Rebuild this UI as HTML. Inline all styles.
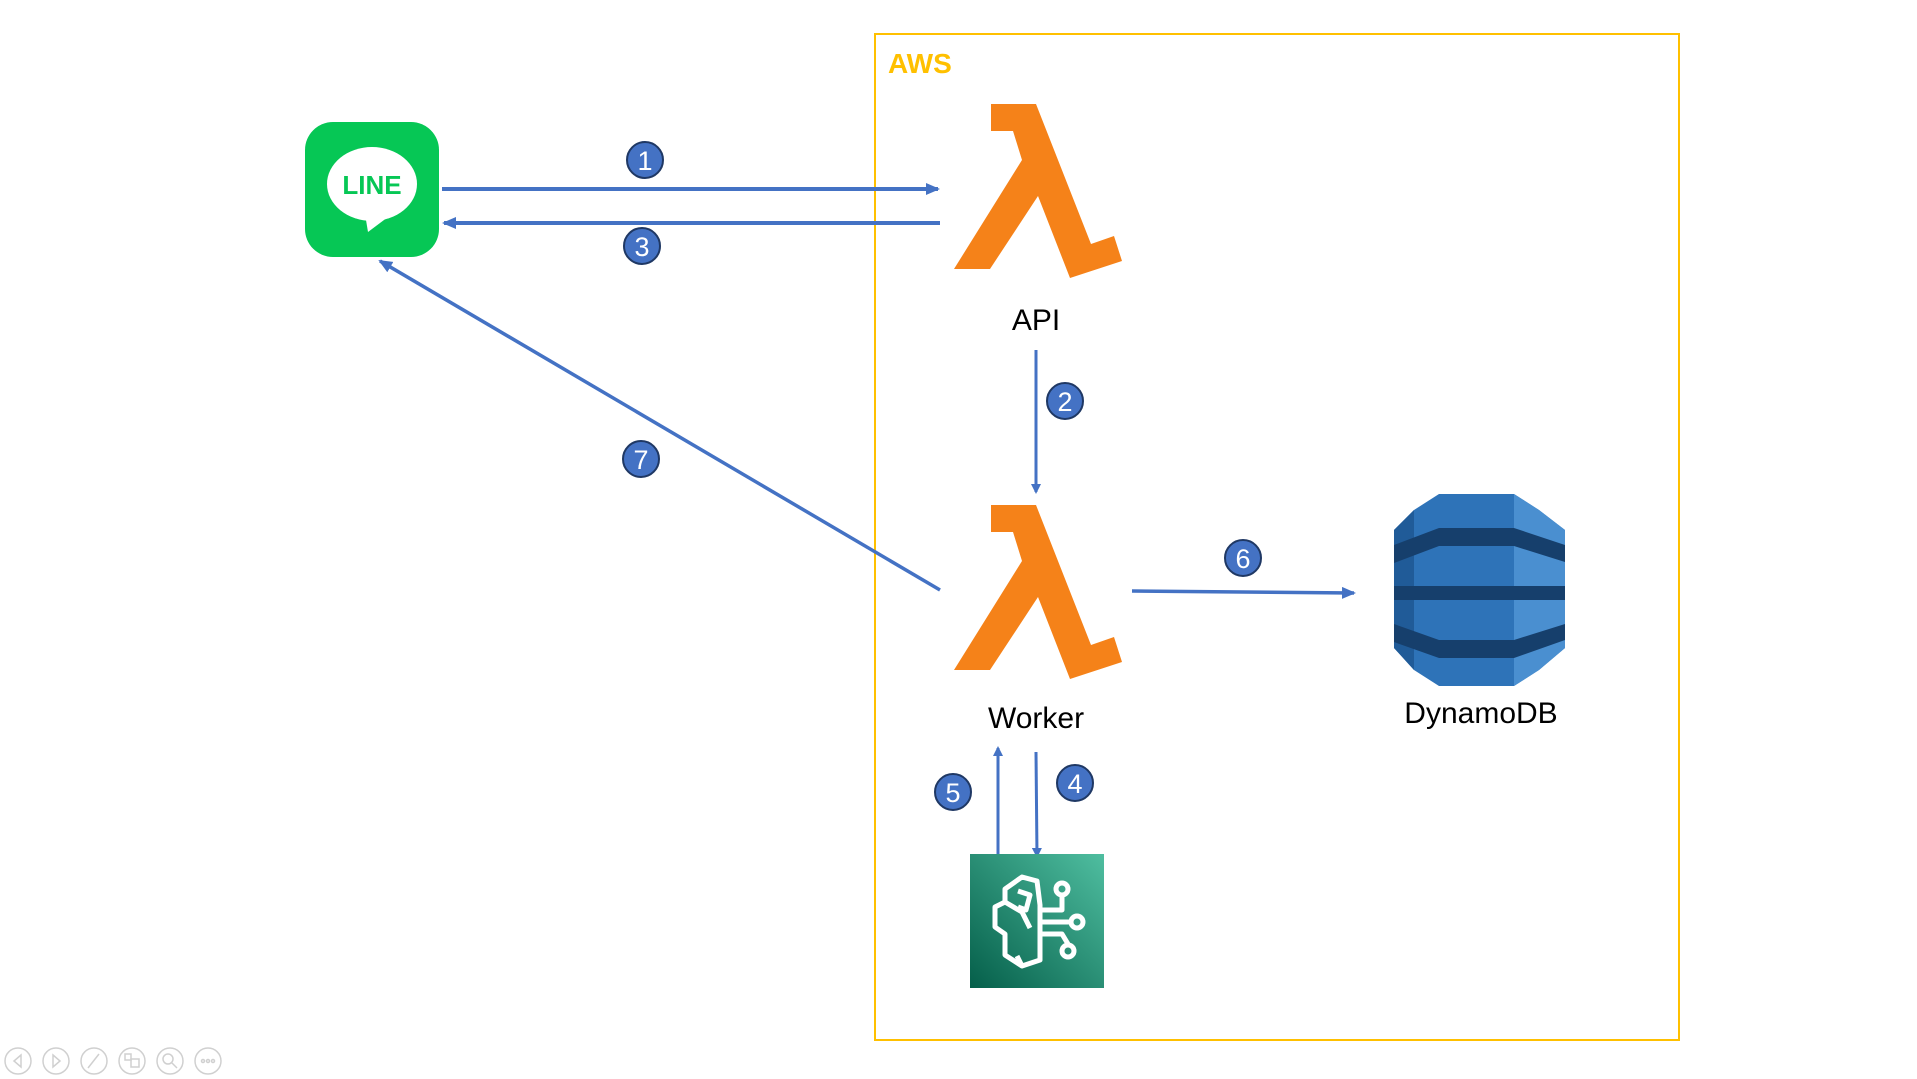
<!DOCTYPE html>
<html><head><meta charset="utf-8"><style>
html,body{margin:0;padding:0;background:#fff;}
svg{display:block;}
text{font-family:"Liberation Sans",sans-serif;}
</style></head><body>
<svg width="1917" height="1079" viewBox="0 0 1917 1079" xmlns="http://www.w3.org/2000/svg">
<defs>
<marker id="ah" markerWidth="10" markerHeight="10" refX="8" refY="5" orient="auto" markerUnits="userSpaceOnUse">
<path d="M0,0 L10,5 L0,10 z" fill="#4472C4"/>
</marker>
<marker id="ah2" markerWidth="14" markerHeight="12" refX="12" refY="6" orient="auto" markerUnits="userSpaceOnUse">
<path d="M0,0 L14,6 L0,12 z" fill="#4472C4"/>
</marker>
<linearGradient id="cg" x1="0" y1="1" x2="1" y2="0">
<stop offset="0" stop-color="#055F4A"/><stop offset="1" stop-color="#4FBEA0"/>
</linearGradient>
</defs>
<rect x="875" y="34" width="804" height="1006" fill="none" stroke="#FFC000" stroke-width="2"/>
<text x="888" y="73" font-size="28" font-weight="bold" fill="#FFC000">AWS</text>

<rect x="305" y="122" width="134" height="135" rx="28" fill="#06C755"/>
<ellipse cx="372" cy="184" rx="45" ry="37" fill="#fff"/>
<path d="M365,214 L368,232 L392,214 z" fill="#fff"/>
<text x="372" y="194" font-size="26" font-weight="bold" fill="#06C755" text-anchor="middle">LINE</text>

<line x1="442" y1="189" x2="938" y2="189" stroke="#4472C4" stroke-width="4" marker-end="url(#ah2)"/>
<line x1="940" y1="223" x2="444" y2="223" stroke="#4472C4" stroke-width="4" marker-end="url(#ah2)"/>
<line x1="940" y1="590" x2="380" y2="261" stroke="#4472C4" stroke-width="3.5" marker-end="url(#ah2)"/>
<line x1="1036" y1="350" x2="1036" y2="492" stroke="#4472C4" stroke-width="3" marker-end="url(#ah)"/>
<line x1="1132" y1="591" x2="1354" y2="593" stroke="#4472C4" stroke-width="3.5" marker-end="url(#ah2)"/>
<line x1="998" y1="862" x2="998" y2="748" stroke="#4472C4" stroke-width="3" marker-end="url(#ah)"/>
<line x1="1036" y1="752" x2="1037" y2="856" stroke="#4472C4" stroke-width="3" marker-end="url(#ah)"/>

<path d="M991,104 L1036,104 L1091,244 L1114,236 L1122,261 L1070,278 L1038,196 L990,269 L954,269 L1022,160 L1013,131 L991,131 z" fill="#F58219"/>
<path d="M991,104 L1036,104 L1091,244 L1114,236 L1122,261 L1070,278 L1038,196 L990,269 L954,269 L1022,160 L1013,131 L991,131 z" fill="#F58219" transform="translate(0,401)"/>
<text x="1036" y="330" font-size="30" text-anchor="middle" fill="#000">API</text>
<text x="1036" y="728" font-size="30" text-anchor="middle" fill="#000">Worker</text>

<g>
<path d="M1414,510 L1439,494 L1514,494 L1539,510 L1565,530 L1565,648 L1539,670 L1514,686 L1439,686 L1414,670 L1394,648 L1394,530 z" fill="#2E73B8"/>
<path d="M1394,530 L1414,510 L1414,670 L1394,648 z" fill="#205B98"/>
<path d="M1514,494 L1539,510 L1565,530 L1565,648 L1539,670 L1514,686 z" fill="#4A8FD0"/>
<path d="M1394,545 L1439,528 L1514,528 L1565,545 L1565,562 L1514,546 L1439,546 L1394,563 z" fill="#163F6C"/>
<rect x="1394" y="586" width="171" height="14" fill="#163F6C"/>
<path d="M1394,624 L1439,640 L1514,640 L1565,624 L1565,640 L1514,658 L1439,658 L1394,642 z" fill="#163F6C"/>
</g>
<text x="1481" y="723" font-size="30" text-anchor="middle" fill="#000">DynamoDB</text>

<rect x="970" y="854" width="134" height="134" fill="url(#cg)"/>
<g fill="none" stroke="#fff" stroke-width="5" stroke-linejoin="round">
<path d="M1022,877 L1037,881 L1040,905 L1040,960 L1022,966 L1005,955 L1005,934 L995,927 L995,907 L1005,902 L1005,889 z"/>
<path d="M1018,891 L1030,895 L1026,910 L1018,907"/>
<path d="M1005,902 L1022,912 L1030,928"/>
<path d="M1040,910 L1062,910 L1062,893"/>
<path d="M1040,922 L1072,922"/>
<path d="M1040,934 L1062,934 L1068,944"/>
<path d="M1022,966 L1017,956"/>
<circle cx="1062" cy="889" r="6"/>
<circle cx="1077" cy="922" r="6"/>
<circle cx="1068" cy="951" r="6"/>
</g>

<g stroke="#1F3864" stroke-width="2" fill="#4472C4">
<circle cx="645" cy="160" r="18"/>
<circle cx="642" cy="246" r="18"/>
<circle cx="1065" cy="401" r="18"/>
<circle cx="1075" cy="783" r="18"/>
<circle cx="953" cy="792" r="18"/>
<circle cx="1243" cy="558" r="18"/>
<circle cx="641" cy="459" r="18"/>
</g>
<g fill="#fff" font-size="27" text-anchor="middle">
<text x="645" y="170">1</text>
<text x="642" y="256">3</text>
<text x="1065" y="411">2</text>
<text x="1075" y="793">4</text>
<text x="953" y="802">5</text>
<text x="1243" y="568">6</text>
<text x="641" y="469">7</text>
</g>

<g fill="none" stroke="#d0d0d0" stroke-width="1.5">
<circle cx="18" cy="1061" r="13"/><circle cx="56" cy="1061" r="13"/><circle cx="94" cy="1061" r="13"/>
<circle cx="132" cy="1061" r="13"/><circle cx="170" cy="1061" r="13"/><circle cx="208" cy="1061" r="13"/>
<path d="M21,1055 L14,1061 L21,1067 z"/><path d="M53,1055 L60,1061 L53,1067 z"/>
<path d="M88,1068 L99,1054"/><circle cx="168" cy="1059" r="5"/><path d="M172,1063 L177,1068"/>
<rect x="125" y="1054" width="6" height="6"/><rect x="131" y="1059" width="8" height="8"/>
<circle cx="203" cy="1061" r="1.5"/><circle cx="208" cy="1061" r="1.5"/><circle cx="213" cy="1061" r="1.5"/>
</g>
</svg>
</body></html>
